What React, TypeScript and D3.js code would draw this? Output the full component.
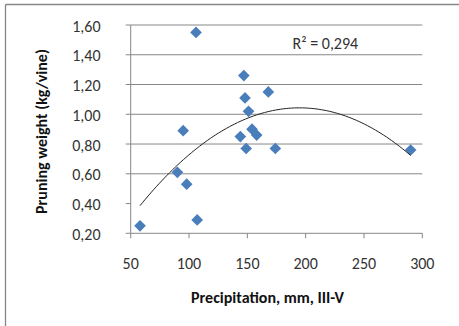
import React from "react";
import * as d3 from "d3";

const precipitation = [58, 106, 95, 90, 98, 107, 147, 148, 151, 144, 149, 154, 158, 168, 174, 290];
const pruningWeight = [0.25, 1.55, 0.89, 0.61, 0.53, 0.29, 1.26, 1.11, 1.02, 0.85, 0.77, 0.9, 0.86, 1.15, 0.77, 0.76];
const xTicks = [50, 100, 150, 200, 250, 300];
const yTicks = [0.2, 0.4, 0.6, 0.8, 1.0, 1.2, 1.4, 1.6];
const gridTicks = [0.6, 0.8, 1.0, 1.2, 1.4, 1.6];
const rSquaredLabel = "R² = 0,294";

function quadFit(xs: number[], ys: number[]) {
  const n = xs.length;
  const s = [0, 0, 0, 0, 0];
  const t = [0, 0, 0];
  for (let i = 0; i < n; i++) {
    const xv = xs[i], yv = ys[i];
    for (let k = 0; k <= 4; k++) s[k] += Math.pow(xv, k);
    for (let k = 0; k <= 2; k++) t[k] += yv * Math.pow(xv, k);
  }
  const A = [
    [s[0], s[1], s[2], t[0]],
    [s[1], s[2], s[3], t[1]],
    [s[2], s[3], s[4], t[2]],
  ];
  for (let i = 0; i < 3; i++) {
    let p = i;
    for (let r = i + 1; r < 3; r++) if (Math.abs(A[r][i]) > Math.abs(A[p][i])) p = r;
    [A[i], A[p]] = [A[p], A[i]];
    for (let r = 0; r < 3; r++) {
      if (r === i) continue;
      const f = A[r][i] / A[i][i];
      for (let c = i; c < 4; c++) A[r][c] -= f * A[i][c];
    }
  }
  return [A[0][3] / A[0][0], A[1][3] / A[1][1], A[2][3] / A[2][2]];
}

export default function App() {
  const W = 459, H = 326;
  const x = d3.scaleLinear().domain([50, 300]).range([130.7, 422.3]);
  const y = d3.scaleLinear().domain([0.2, 1.6]).range([233.3, 25]);
  const [a, b, c] = quadFit(precipitation, pruningWeight);
  const xmin = d3.min(precipitation)!, xmax = d3.max(precipitation)!;
  const trend = d3.range(0, 101).map((i) => {
    const xv = xmin + ((xmax - xmin) * i) / 100;
    return [xv, a + b * xv + c * xv * xv] as [number, number];
  });
  const line = d3.line<[number, number]>().x((d) => x(d[0])).y((d) => y(d[1]));
  const diamond = d3.symbol().type(d3.symbolSquare).size(68)();
  const font = "Carlito, Calibri, 'Open Sans', sans-serif";
  const gray = "#878787";
  return (
    <svg width={W} height={H} style={{ position: "absolute", left: 0, top: 0, background: "#fff" }}>
      <line x1={5.5} x2={W} y1={4.5} y2={4.5} stroke={gray} strokeWidth={1.3} />
      <line x1={5.5} x2={5.5} y1={4.5} y2={H} stroke={gray} strokeWidth={1.3} />
      {gridTicks.map((t) => (
        <line key={t} x1={x(50)} x2={x(300)} y1={y(t)} y2={y(t)} stroke={gray} strokeWidth={1} />
      ))}
      <line x1={x(50)} x2={x(50)} y1={y(1.6)} y2={y(0.2)} stroke={gray} />
      <line x1={x(50)} x2={x(300)} y1={y(0.2)} y2={y(0.2)} stroke={gray} />
      {yTicks.map((t) => (
        <g key={t}>
          <line x1={x(50) - 5} x2={x(50)} y1={y(t)} y2={y(t)} stroke={gray} />
          <text x={100.5} y={y(t) + 1} dy="0.35em" textAnchor="end" fontFamily={font} fontSize={16} fill="#333">
            {t.toFixed(2).replace(".", ",")}
          </text>
        </g>
      ))}
      {xTicks.map((t) => (
        <g key={t}>
          <line x1={x(t)} x2={x(t)} y1={y(0.2)} y2={y(0.2) + 5} stroke={gray} />
          <text x={x(t)} y={263.5} dy="0.35em" textAnchor="middle" fontFamily={font} fontSize={16} fill="#333">
            {t}
          </text>
        </g>
      ))}
      {precipitation.map((p, i) => (
        <path
          key={i}
          d={diamond}
          transform={`translate(${x(p)},${y(pruningWeight[i])}) rotate(45)`}
          fill="#4A7EBB"
        />
      ))}
      <path d={line(trend) || ""} fill="none" stroke="#222" strokeWidth={1} />
      <text x={292.5} y={43} dy="0.35em" fontFamily={font} fontSize={16} fill="#333">
        {rSquaredLabel}
      </text>
      <text x={267.5} y={297.5} dy="0.35em" textAnchor="middle" fontFamily={font} fontSize={16} fontWeight="bold" fill="#111">
        Precipitation, mm, III-V
      </text>
      <text
        transform={`translate(41.5,131.5) rotate(-90)`}
        dy="0.35em"
        textAnchor="middle"
        fontFamily={font}
        fontSize={16}
        fontWeight="bold"
        fill="#111"
      >
        Pruning weight (kg/vine)
      </text>
    </svg>
  );
}
